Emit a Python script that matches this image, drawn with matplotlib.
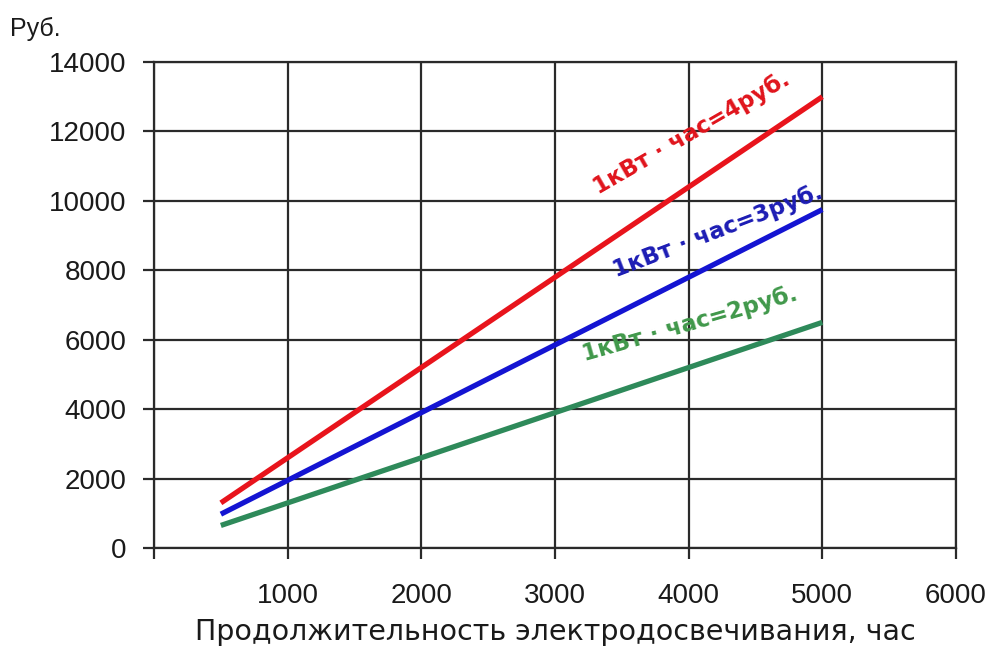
import matplotlib
matplotlib.use("Agg")
import matplotlib.pyplot as plt

# hours of operation and cost for three electricity tariffs
hours = [500, 1000, 2000, 3000, 4000, 5000]
cost_4rub = [1300, 2600, 5200, 7800, 10400, 13000]
cost_3rub = [975, 1950, 3900, 5850, 7800, 9750]
cost_2rub = [650, 1300, 2600, 3900, 5200, 6500]

series = [
    (cost_4rub, "#e8141c", "#e0141c", "1кВт · час=4руб.", 4020, 11950, 30),
    (cost_3rub, "#1414d2", "#1c1cb4", "1кВт · час=3руб.", 4220, 9120, 21),
    (cost_2rub, "#2e8a5a", "#40984a", "1кВт · час=2руб.", 4010, 6460, 16),
]

xticks = [0, 1000, 2000, 3000, 4000, 5000, 6000]
xticklabels = ["", "1000", "2000", "3000", "4000", "5000", "6000"]
yticks = [0, 2000, 4000, 6000, 8000, 10000, 12000, 14000]

plt.rcParams["font.family"] = ["Liberation Sans", "DejaVu Sans"]

fig = plt.figure(figsize=(9.88, 6.48), dpi=100)
ax = fig.add_axes([0.1559, 0.1543, 0.8117, 0.75])

for vals, color, tcolor, label, lx, ly, rot in series:
    ax.plot(hours, vals, color=color, lw=3.8, solid_capstyle="butt", zorder=3)
    ax.text(lx, ly, label, color=tcolor, fontsize=16.5, fontweight="bold",
            family="DejaVu Sans", rotation=rot, ha="center", va="center",
            zorder=4)

ax.set_xlim(0, 6000)
ax.set_ylim(0, 14000)
ax.set_xticks(xticks)
ax.set_xticklabels(xticklabels)
ax.set_yticks(yticks)
ax.grid(True, color="#2a2a2a", lw=1.6)
for s in ax.spines.values():
    s.set_color("#2a2a2a")
    s.set_linewidth(1.6)
ax.tick_params(axis="both", length=8, width=1.6, color="#2a2a2a",
               labelsize=20, labelcolor="#1a1a1a")
ax.tick_params(axis="x", pad=17)
ax.tick_params(axis="y", pad=12)

ax.set_xlabel("Продолжительность электродосвечивания, час",
              fontsize=20.5, family="DejaVu Sans", color="#1a1a1a", labelpad=7)
fig.text(0.010, 0.937, "Руб.", fontsize=18, color="#1a1a1a",
         ha="left", va="bottom")

fig.savefig("out.png", dpi=100)
